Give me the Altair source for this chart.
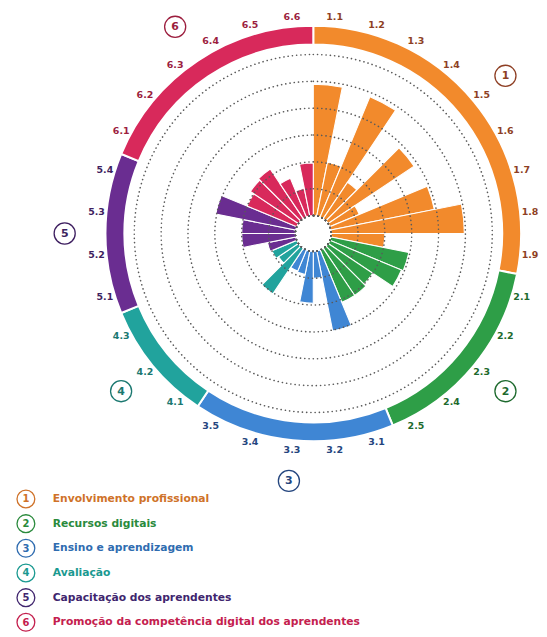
import math
import altair as alt
import pandas as pd

# ---- data ----
items = ["1.1", "1.2", "1.3", "1.4", "1.5", "1.6", "1.7", "1.8", "1.9",
         "2.1", "2.2", "2.3", "2.4", "2.5",
         "3.1", "3.2", "3.3", "3.4", "3.5",
         "4.1", "4.2", "4.3",
         "5.1", "5.2", "5.3", "5.4",
         "6.1", "6.2", "6.3", "6.4", "6.5", "6.6"]
values = [48.9, 20.4, 48.5, 16.3, 38.5, 11.9, 39.3, 49.6, 20.0,
          29.6, 28.9, 20.0, 21.1, 21.1,
          30.4, 10.0, 19.3, 8.9, 8.5,
          20.4, 8.9, 10.0,
          10.7, 20.0, 20.0, 30.4,
          20.0, 21.5, 22.2, 15.6, 10.4, 19.6]
group_ids = ["1", "2", "3", "4", "5", "6"]
group_names = ["Envolvimento profissional", "Recursos digitais", "Ensino e aprendizagem",
               "Avaliação", "Capacitação dos aprendentes",
               "Promoção da competência digital dos aprendentes"]
group_colors = ["#F28A2C", "#2E9E47", "#3F86D4", "#21A39D", "#6A2D91", "#D8295B"]
label_colors = ["#8E3F24", "#1E6A2E", "#24457E", "#1B7870", "#3E1F60", "#9C1E3E"]
legend_colors = ["#CF7229", "#2A8A3C", "#2F6CB0", "#1A9990", "#40256E", "#C4204E"]
grid_values = [10, 20, 30, 40, 50, 60]

N = len(items)
gidx = [group_ids.index(it.split(".")[0]) for it in items]

bars = pd.DataFrame({
    "item": items,
    "value": values,
    "start": list(range(N)),
    "end": [i + 1 for i in range(N)],
    "mid": [i + 0.5 for i in range(N)],
    "col": [group_colors[g] for g in gidx],
    "dark": [label_colors[g] for g in gidx],
})

starts, ends = [], []
for k in range(len(group_ids)):
    idxs = [i for i, g in enumerate(gidx) if g == k]
    starts.append(min(idxs))
    ends.append(max(idxs) + 1)
groups = pd.DataFrame({
    "gid": group_ids,
    "start": starts,
    "end": ends,
    "mid": [(s + e) / 2 for s, e in zip(starts, ends)],
    "col": group_colors,
    "dark": label_colors,
})
grid = pd.DataFrame({"v": grid_values})
legend = pd.DataFrame({
    "row": list(range(len(group_ids))),
    "gid": group_ids,
    "name": group_names,
    "col": legend_colors,
})

# ---- scales / layout ----
W, H = 531, 470
CX, CY = 307, 225
FONT = "DejaVu Sans"
theta_scale = alt.Scale(domain=[0, N], range=[0, 2 * math.pi])
r_scale = alt.Scale(type="linear", domain=[0, 60], range=[18, 180])
cx = alt.value(CX)
cy = alt.value(CY)

bar_layer = alt.Chart(bars).mark_arc(radius2=18, stroke="white", strokeWidth=1.1).encode(
    theta=alt.Theta("start:Q", scale=theta_scale, stack=False),
    theta2="end:Q",
    radius=alt.Radius("value:Q", scale=r_scale, stack=False),
    fill=alt.Fill("col:N", scale=None),
    x=cx, y=cy,
)

grid_layer = alt.Chart(grid).mark_arc(
    theta=0, theta2=6.2832, fillOpacity=0, stroke="#5a5a5a", strokeWidth=1.6,
    strokeDash=[0.1, 4.2], strokeCap="round"
).encode(
    radius=alt.Radius("v:Q", scale=r_scale, stack=False),
    x=cx, y=cy,
)

ring_layer = alt.Chart(groups).mark_arc(radius=209, radius2=190, stroke="white", strokeWidth=2).encode(
    theta=alt.Theta("start:Q", scale=theta_scale, stack=False),
    theta2="end:Q",
    fill=alt.Fill("col:N", scale=None),
    x=cx, y=cy,
)

label_layer = alt.Chart(bars).mark_text(
    radius=219, font=FONT, fontSize=9.5, fontWeight="bold", align="center", baseline="middle"
).encode(
    theta=alt.Theta("mid:Q", scale=theta_scale, stack=False),
    text="item:N",
    color=alt.Color("dark:N", scale=None),
    x=cx, y=cy,
)

xs = alt.Scale(domain=[-CX, W - CX], range=[0, W])
ys = alt.Scale(domain=[-CY, H - CY], range=[0, H])
marker_base = alt.Chart(groups).transform_calculate(
    px="250*sin(datum.mid*2*PI/" + str(N) + ")",
    py="-250*cos(datum.mid*2*PI/" + str(N) + ")",
)
marker_circles = marker_base.mark_point(shape="circle", size=450, filled=False, strokeWidth=1.3, opacity=1).encode(
    x=alt.X("px:Q", scale=xs, axis=None),
    y=alt.Y("py:Q", scale=ys, axis=None),
    color=alt.Color("dark:N", scale=None),
)
marker_text = marker_base.mark_text(font=FONT, fontSize=11, fontWeight="bold", baseline="middle", dy=0.5).encode(
    x=alt.X("px:Q", scale=xs, axis=None),
    y=alt.Y("py:Q", scale=ys, axis=None),
    text="gid:N",
    color=alt.Color("dark:N", scale=None),
)

polar = alt.layer(bar_layer, grid_layer, ring_layer, label_layer, marker_circles, marker_text).properties(
    width=W, height=H
)

ly = alt.Y("row:Q", scale=alt.Scale(domain=[0, 5], range=[22, 146]), axis=None)
leg_circles = alt.Chart(legend).mark_point(shape="circle", size=320, filled=False, strokeWidth=1.3, opacity=1).encode(
    x=alt.value(18), y=ly, color=alt.Color("col:N", scale=None)
)
leg_digits = alt.Chart(legend).mark_text(font=FONT, fontSize=10, fontWeight="bold", baseline="middle", dy=0.5).encode(
    x=alt.value(18), y=ly, text="gid:N", color=alt.Color("col:N", scale=None)
)
leg_names = alt.Chart(legend).mark_text(font=FONT, fontSize=10.8, fontWeight="bold", align="left", baseline="middle").encode(
    x=alt.value(45), y=ly, text="name:N", color=alt.Color("col:N", scale=None)
)
legend_chart = alt.layer(leg_circles, leg_digits, leg_names).properties(width=W, height=151)

chart = alt.vconcat(polar, legend_chart, spacing=0, bounds="flush").properties(padding=0).configure_view(strokeWidth=0)

chart.save("out.html", embed_options={"renderer": "svg", "actions": False})
